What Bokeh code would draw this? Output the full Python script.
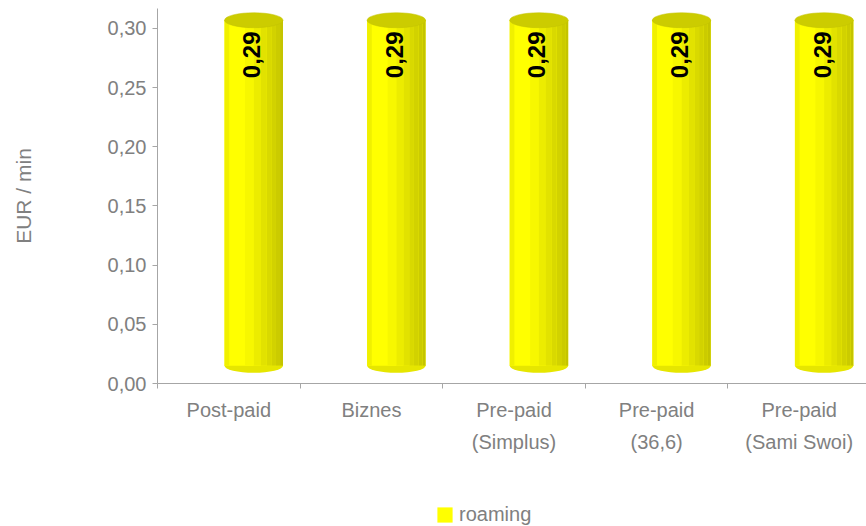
import numpy as np
from bokeh.plotting import figure
from bokeh.layouts import column
from bokeh.models import (FixedTicker, LinearAxis, Range1d, Legend, LegendItem)
from bokeh.core.properties import value
from bokeh.embed import file_html
from bokeh.resources import INLINE

# ---- data ----
categories = ["Post-paid", "Biznes", "Pre-paid\n(Simplus)", "Pre-paid\n(36,6)", "Pre-paid\n(Sami Swoi)"]
roaming = [0.29, 0.29, 0.29, 0.29, 0.29]
value_labels = ["0,29", "0,29", "0,29", "0,29", "0,29"]
y_ticks = [0.0, 0.05, 0.10, 0.15, 0.20, 0.25, 0.30]
y_tick_labels = ["0,00", "0,05", "0,10", "0,15", "0,20", "0,25", "0,30"]
series_name = "roaming"

FONT = "Liberation Sans"
GREY = "#808080"
AXIS = "#a6a6a6"

n = len(categories)
centers = np.arange(n) + 0.5
bar_x = centers + 0.175
bar_w = 0.41
depth = 0.015  # 3D lift of the cylinder base
vals = np.array(roaming)
tops = vals + depth + 0.002
bottoms = np.full(n, depth)

p = figure(width=866, height=470, output_backend="svg", toolbar_location=None,
           x_range=Range1d(0, 4.972), y_range=Range1d(0, 0.3169),
           min_border_left=157, min_border_right=0, min_border_top=8,
           min_border_bottom=87, x_axis_location=None, y_axis_location=None)
p.outline_line_color = None
p.xgrid.visible = False
p.ygrid.visible = False

# bottom ellipse (visible lower half)
p.ellipse(x=bar_x, y=bottoms, width=bar_w, height=14, height_units="screen",
          fill_color="#e6e600", line_color=None)
# main body
body = p.vbar(x=bar_x, width=bar_w, top=tops, bottom=bottoms,
              fill_color="#ffff00", line_color=None)
# shading stripes across cylinder
stripes = [(0.00, 0.08, "#f0f000"), (0.35, 0.50, "#f7f700"), (0.50, 0.62, "#ecec00"),
           (0.62, 0.72, "#e2e200"), (0.72, 0.80, "#d9d900"), (0.80, 0.88, "#d2d200"),
           (0.88, 0.95, "#cbcb00"), (0.95, 1.00, "#c4c400")]
for a, b, c in stripes:
    p.vbar(x=bar_x - bar_w / 2 + bar_w * (a + b) / 2, width=bar_w * (b - a),
           top=tops, bottom=bottoms, fill_color=c, line_color=None)
# top ellipse
p.ellipse(x=bar_x, y=tops, width=bar_w, height=15, height_units="screen",
          fill_color="#cccc00", line_color="#c2c200", line_width=0.5)

# value labels
p.text(x=bar_x, y=tops - 0.0095, text=value_labels, angle=np.pi / 2,
       text_align="right", text_baseline="middle", text_font=value(FONT),
       text_font_style="bold", text_font_size="24px", text_color="black",
       x_offset=-2)

# y axis
yax = LinearAxis(ticker=FixedTicker(ticks=y_ticks, minor_ticks=[]),
                 major_label_overrides={t: l for t, l in zip(y_ticks, y_tick_labels)},
                 axis_label="EUR / min")
yax.axis_line_color = AXIS
yax.major_tick_line_color = AXIS
yax.major_tick_out = 5
yax.major_tick_in = 0
yax.major_label_standoff = 6
yax.major_label_text_font = FONT
yax.major_label_text_font_size = "20px"
yax.major_label_text_color = GREY
yax.axis_label_text_font = FONT
yax.axis_label_text_font_size = "21px"
yax.axis_label_text_font_style = "normal"
yax.axis_label_text_color = GREY
yax.axis_label_standoff = 70
p.add_layout(yax, "left")

# x axis (line 1 of labels, ticks at category boundaries)
line1 = [c.split("\n")[0] for c in categories]
line2 = [c.split("\n")[1] if "\n" in c else "" for c in categories]
xax = LinearAxis(ticker=FixedTicker(ticks=list(centers), minor_ticks=list(range(n + 1))),
                 major_label_overrides={float(c): l for c, l in zip(centers, line1)})
xax.axis_line_color = AXIS
xax.major_tick_line_color = None
xax.major_tick_out = 0
xax.major_tick_in = 0
xax.minor_tick_line_color = AXIS
xax.minor_tick_out = 5
xax.minor_tick_in = 0
xax.major_label_standoff = 10
xax.major_label_text_font = FONT
xax.major_label_text_font_size = "20px"
xax.major_label_text_color = GREY
p.add_layout(xax, "below")

xax2 = LinearAxis(ticker=FixedTicker(ticks=list(centers), minor_ticks=[]),
                  major_label_overrides={float(c): l for c, l in zip(centers, line2)})
xax2.axis_line_color = None
xax2.major_tick_line_color = None
xax2.major_tick_out = 0
xax2.major_tick_in = 0
xax2.major_label_standoff = 7
xax2.major_label_text_font = FONT
xax2.major_label_text_font_size = "20px"
xax2.major_label_text_color = GREY
p.add_layout(xax2, "below")

# legend strip below the chart (frame aligned with the main chart's frame)
p2 = figure(width=866, height=56, output_backend="svg", toolbar_location=None,
            x_range=Range1d(0, 1), y_range=Range1d(0, 1),
            min_border_left=0, min_border_right=0, min_border_top=0,
            min_border_bottom=0, x_axis_location=None, y_axis_location=None)
p2.outline_line_color = None
p2.xgrid.visible = False
p2.ygrid.visible = False
swatch = p2.rect(x=[-5], y=[-5], width=0.1, height=0.1,
                 fill_color="#ffff00", line_color=None)
legend = Legend(items=[LegendItem(label=series_name, renderers=[swatch])],
                location=(278, 0), border_line_color=None,
                background_fill_alpha=0, padding=0, margin=0, spacing=0,
                glyph_width=19, glyph_height=19, label_standoff=5,
                label_text_font=FONT, label_text_font_size="20px",
                label_text_color=GREY)
p2.add_layout(legend, "center")

layout = column(p, p2, spacing=0)
open("out.html", "w").write(file_html(layout, INLINE))
